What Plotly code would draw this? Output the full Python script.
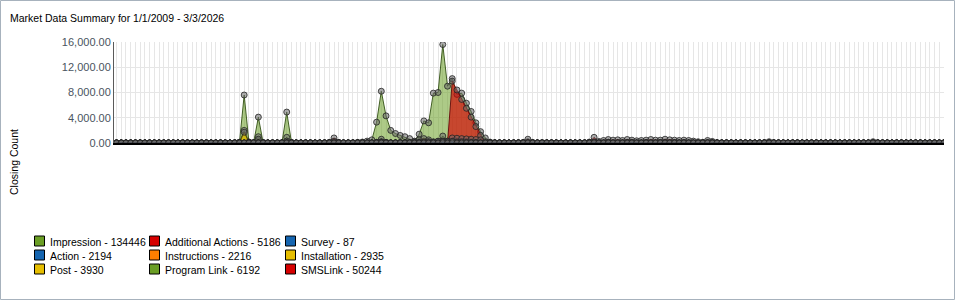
import plotly.graph_objects as go

# ---------------- data ----------------
periods = list(range(176))

impression = [
    0, 0, 20, 0, 0, 30, 0, 0, 0, 20, 0, 0, 0, 0, 30, 0,
    0, 0, 0, 20, 0, 0, 0, 0, 0, 30, 80, 7600, 150, 60, 4100, 90,
    0, 0, 0, 90, 4900, 120, 0, 0, 20, 0, 0, 0, 0, 40, 300, 60,
    0, 20, 40, 100, 150, 300, 500, 3300, 8200, 4300, 2000, 1500, 1200, 1000, 700, 300,
    1400, 3500, 3200, 7900, 8000, 15600, 9000, 10200, 7700, 7900, 6300, 5000, 3200, 1800, 800, 150,
    40, 0, 20, 0, 0, 30, 0, 200, 0, 0, 0, 20, 0, 0, 0, 0,
    0, 0, 20, 0, 0, 150, 0, 0, 50, 0, 60, 0, 0, 50, 0, 0,
    0, 40, 0, 0, 60, 0, 0, 0, 40, 0, 0, 0, 0, 0, 100, 0,
    0, 0, 0, 0, 0, 0, 0, 0, 0, 0, 80, 0, 0, 0, 0, 0,
    0, 0, 0, 0, 0, 0, 0, 0, 0, 0, 0, 0, 0, 0, 0, 0,
    60, 0, 0, 0, 0, 0, 0, 0, 0, 0, 0, 0, 0, 0, 0, 0,
]

sms_link = [
    0, 0, 0, 0, 0, 0, 0, 0, 0, 0, 0, 0, 0, 0, 0, 0,
    0, 0, 0, 0, 0, 0, 0, 0, 0, 0, 0, 0, 0, 0, 0, 0,
    0, 0, 0, 0, 0, 0, 0, 0, 0, 0, 0, 0, 0, 100, 800, 100,
    0, 0, 0, 0, 0, 0, 0, 0, 0, 0, 0, 0, 0, 0, 0, 0,
    0, 0, 0, 0, 0, 0, 0, 9800, 8400, 6900, 5500, 4100, 2600, 1200, 0, 0,
    0, 0, 0, 0, 0, 0, 100, 600, 100, 0, 0, 0, 0, 0, 0, 0,
    0, 0, 0, 0, 150, 900, 250, 400, 550, 450, 500, 400, 550, 450, 350, 400,
    450, 550, 450, 450, 600, 500, 450, 400, 450, 400, 300, 200, 120, 400, 250, 80,
    0, 0, 0, 0, 0, 0, 0, 0, 0, 60, 200, 60, 0, 0, 0, 0,
    0, 0, 0, 0, 0, 0, 0, 0, 0, 0, 0, 0, 0, 0, 0, 0,
    200, 40, 0, 0, 0, 0, 0, 0, 0, 0, 0, 0, 0, 0, 0, 60,
]

additional_actions = [
    0, 0, 0, 0, 0, 0, 0, 0, 0, 0, 0, 0, 0, 0, 0, 0,
    0, 0, 0, 0, 0, 0, 0, 0, 0, 0, 0, 0, 0, 0, 0, 0,
    0, 0, 0, 0, 0, 0, 0, 0, 0, 0, 0, 0, 0, 0, 200, 0,
    0, 0, 0, 0, 0, 0, 0, 0, 0, 0, 0, 0, 0, 0, 0, 0,
    0, 0, 0, 0, 0, 0, 300, 800, 750, 700, 650, 600, 550, 500, 200, 0,
    0, 0, 0, 0, 0, 0, 0, 0, 0, 0, 0, 0, 0, 0, 0, 0,
    0, 0, 0, 0, 0, 0, 0, 0, 0, 0, 0, 0, 0, 0, 0, 0,
    0, 0, 0, 0, 0, 0, 0, 0, 0, 0, 0, 0, 0, 0, 0, 0,
    0, 0, 0, 0, 0, 0, 0, 0, 0, 0, 0, 0, 0, 0, 0, 0,
    0, 0, 0, 0, 0, 0, 0, 0, 0, 0, 0, 0, 0, 0, 0, 0,
    0, 0, 0, 0, 0, 0, 0, 0, 0, 0, 0, 0, 0, 0, 0, 0,
]

program_link = [
    0, 0, 0, 0, 0, 0, 0, 0, 0, 0, 0, 0, 0, 0, 0, 0,
    0, 0, 0, 0, 0, 0, 0, 0, 0, 0, 100, 2000, 100, 0, 1000, 0,
    0, 0, 0, 0, 900, 0, 0, 0, 0, 0, 0, 0, 0, 0, 0, 0,
    0, 0, 0, 0, 0, 0, 0, 0, 600, 0, 0, 0, 0, 0, 0, 0,
    0, 0, 0, 0, 300, 1100, 300, 0, 0, 0, 0, 0, 0, 0, 0, 0,
    0, 0, 0, 0, 0, 0, 0, 0, 0, 0, 0, 0, 0, 0, 0, 0,
    0, 0, 0, 0, 0, 0, 0, 0, 0, 0, 0, 0, 0, 0, 0, 0,
    0, 0, 0, 0, 0, 0, 0, 0, 0, 0, 0, 0, 0, 0, 0, 0,
    0, 0, 0, 0, 0, 0, 0, 0, 0, 0, 0, 0, 0, 0, 0, 0,
    0, 0, 0, 0, 0, 0, 0, 0, 0, 0, 0, 0, 0, 0, 0, 0,
    0, 0, 0, 0, 0, 0, 0, 0, 0, 0, 0, 0, 0, 0, 0, 0,
]

post = [
    0, 0, 0, 0, 0, 0, 0, 0, 0, 0, 0, 0, 0, 0, 0, 0,
    0, 0, 0, 0, 0, 0, 0, 0, 0, 0, 100, 1700, 150, 0, 600, 50,
    0, 0, 0, 0, 300, 0, 0, 0, 0, 0, 0, 0, 0, 0, 0, 0,
    0, 0, 0, 0, 0, 0, 0, 100, 200, 100, 0, 0, 0, 0, 0, 0,
    200, 300, 200, 0, 0, 0, 0, 0, 0, 0, 0, 0, 0, 0, 0, 0,
    0, 0, 0, 0, 0, 0, 0, 0, 0, 0, 0, 0, 0, 0, 0, 0,
    0, 0, 0, 0, 0, 0, 0, 0, 0, 0, 0, 0, 0, 0, 0, 0,
    0, 0, 0, 0, 0, 0, 0, 0, 0, 0, 0, 0, 0, 0, 0, 0,
    0, 0, 0, 0, 0, 0, 0, 0, 0, 0, 0, 0, 0, 0, 0, 0,
    0, 0, 0, 0, 0, 0, 0, 0, 0, 0, 0, 0, 0, 0, 0, 0,
    0, 0, 0, 0, 0, 0, 0, 0, 0, 0, 0, 0, 0, 0, 0, 0,
]

installation = [
    0, 0, 0, 0, 0, 0, 0, 0, 0, 0, 0, 0, 0, 0, 0, 0,
    0, 0, 0, 0, 0, 0, 0, 0, 0, 0, 0, 0, 0, 0, 0, 0,
    0, 0, 0, 0, 0, 0, 0, 0, 0, 0, 0, 0, 0, 0, 0, 0,
    0, 0, 0, 0, 0, 0, 0, 100, 150, 100, 0, 0, 0, 0, 0, 200,
    500, 700, 500, 200, 0, 200, 150, 0, 0, 0, 0, 0, 0, 0, 0, 0,
    0, 0, 0, 0, 0, 0, 0, 0, 0, 0, 0, 0, 0, 0, 0, 0,
    0, 0, 0, 0, 0, 0, 0, 0, 0, 0, 0, 0, 0, 0, 0, 0,
    0, 0, 0, 0, 0, 0, 0, 0, 0, 0, 0, 0, 0, 0, 0, 0,
    0, 0, 0, 0, 0, 0, 0, 0, 0, 0, 0, 0, 0, 0, 0, 0,
    0, 0, 0, 0, 0, 0, 0, 0, 0, 0, 0, 0, 0, 0, 0, 0,
    0, 0, 0, 0, 0, 0, 0, 0, 0, 0, 0, 0, 0, 0, 0, 0,
]

action = [
    0, 0, 0, 0, 0, 0, 0, 0, 0, 0, 0, 0, 0, 0, 0, 0,
    0, 0, 0, 0, 0, 0, 0, 0, 0, 0, 0, 0, 0, 0, 0, 0,
    0, 0, 0, 0, 0, 0, 0, 0, 0, 0, 0, 0, 0, 0, 0, 0,
    0, 0, 0, 0, 0, 0, 0, 0, 100, 0, 0, 0, 100, 0, 80, 0,
    0, 150, 0, 120, 0, 200, 0, 250, 0, 150, 0, 100, 0, 0, 0, 0,
    0, 0, 0, 0, 0, 0, 0, 60, 0, 0, 60, 0, 0, 0, 0, 0,
    0, 0, 0, 0, 0, 150, 0, 0, 100, 0, 0, 0, 0, 120, 0, 0,
    0, 0, 0, 100, 0, 0, 0, 0, 90, 0, 0, 0, 0, 80, 0, 0,
    0, 0, 0, 0, 0, 0, 0, 0, 0, 0, 0, 0, 0, 0, 0, 0,
    0, 0, 0, 0, 0, 0, 0, 0, 0, 0, 0, 0, 0, 0, 0, 0,
    0, 0, 0, 0, 0, 0, 0, 0, 0, 0, 0, 0, 0, 0, 0, 0,
]

instructions = [
    0, 0, 0, 0, 0, 0, 0, 0, 0, 0, 0, 0, 0, 0, 0, 0,
    0, 0, 0, 0, 0, 0, 0, 0, 0, 0, 0, 0, 0, 0, 0, 0,
    0, 0, 0, 0, 0, 0, 0, 0, 0, 0, 0, 0, 0, 0, 0, 0,
    0, 0, 0, 0, 0, 0, 0, 0, 0, 0, 0, 0, 0, 0, 0, 0,
    100, 0, 200, 0, 250, 300, 200, 200, 150, 0, 120, 0, 100, 0, 0, 0,
    0, 0, 0, 0, 0, 0, 0, 0, 0, 0, 0, 0, 0, 0, 0, 0,
    0, 0, 0, 0, 80, 0, 0, 0, 120, 0, 0, 0, 100, 0, 0, 0,
    90, 0, 0, 0, 100, 0, 80, 0, 0, 0, 0, 0, 0, 0, 0, 0,
    0, 0, 0, 0, 0, 0, 0, 0, 0, 0, 0, 0, 0, 0, 0, 0,
    0, 0, 0, 0, 0, 0, 0, 0, 0, 0, 0, 0, 0, 0, 0, 0,
    0, 0, 0, 0, 0, 0, 0, 0, 0, 0, 0, 0, 0, 0, 0, 0,
]

survey = [
    0, 0, 0, 0, 0, 0, 0, 0, 0, 0, 0, 0, 0, 0, 0, 0,
    0, 0, 0, 0, 0, 0, 0, 0, 0, 0, 0, 0, 0, 0, 0, 0,
    0, 0, 0, 0, 0, 0, 0, 0, 0, 0, 0, 0, 0, 0, 0, 0,
    0, 0, 0, 0, 0, 0, 0, 0, 0, 0, 0, 0, 0, 0, 0, 0,
    0, 0, 0, 0, 0, 40, 0, 30, 0, 0, 0, 0, 0, 0, 0, 0,
    0, 0, 0, 0, 0, 0, 0, 0, 0, 0, 0, 0, 0, 0, 0, 0,
    0, 0, 0, 0, 0, 17, 0, 0, 0, 0, 0, 0, 0, 0, 0, 0,
    0, 0, 0, 0, 0, 0, 0, 0, 0, 0, 0, 0, 0, 0, 0, 0,
    0, 0, 0, 0, 0, 0, 0, 0, 0, 0, 0, 0, 0, 0, 0, 0,
    0, 0, 0, 0, 0, 0, 0, 0, 0, 0, 0, 0, 0, 0, 0, 0,
    0, 0, 0, 0, 0, 0, 0, 0, 0, 0, 0, 0, 0, 0, 0, 0,
]

# legend order (row-major, 3 columns) and totals shown in legend
legend_names = ["Impression", "Additional Actions", "Survey",
                "Action", "Instructions", "Installation",
                "Post", "Program Link", "SMSLink"]
legend_totals = [134446, 5186, 87, 2194, 2216, 2935, 3930, 6192, 50244]

y_ticks = [0, 4000, 8000, 12000, 16000]
title_text = "Market Data Summary for 1/1/2009 - 3/3/2026"
y_title = "Closing Count"

# ---------------- styling ----------------
FONT = "Liberation Sans, Arial, sans-serif"
colors = {
    "Impression": (106, 158, 36),
    "Additional Actions": (214, 0, 0),
    "Survey": (21, 101, 176),
    "Action": (21, 101, 176),
    "Instructions": (255, 127, 0),
    "Installation": (230, 190, 0),
    "Post": (230, 190, 0),
    "Program Link": (106, 158, 36),
    "SMSLink": (214, 0, 0),
}
line_colors = {
    "Impression": "rgba(50,80,20,0.9)",
    "Additional Actions": "rgba(100,10,10,0.9)",
    "Survey": "rgba(15,30,60,0.9)",
    "Action": "rgba(15,30,60,0.9)",
    "Instructions": "rgba(90,45,0,0.9)",
    "Installation": "rgba(80,65,0,0.9)",
    "Post": "rgba(80,65,0,0.9)",
    "Program Link": "rgba(50,80,20,0.9)",
    "SMSLink": "rgba(100,10,10,0.9)",
}
fill_alpha = {
    "Impression": 0.55, "Program Link": 0.55, "Post": 0.75, "Installation": 0.75,
    "SMSLink": 0.65, "Additional Actions": 0.65, "Instructions": 0.7,
    "Action": 0.7, "Survey": 0.7,
}

series = {
    "Impression": impression,
    "Program Link": program_link,
    "Post": post,
    "Installation": installation,
    "SMSLink": sms_link,
    "Additional Actions": additional_actions,
    "Instructions": instructions,
    "Action": action,
    "Survey": survey,
}

fig = go.Figure()
for name, vals in series.items():
    r, g, b = colors[name]
    fig.add_trace(go.Scatter(
        x=periods, y=vals, name=name,
        mode="lines+markers",
        fill="tozeroy",
        fillcolor=f"rgba({r},{g},{b},{fill_alpha[name]})",
        line=dict(color=line_colors[name], width=1),
        marker=dict(size=6, color="rgba(105,105,105,0.55)",
                    line=dict(color="rgba(35,35,35,0.8)", width=1)),
        showlegend=False,
        cliponaxis=True,
    ))

# pixel geometry
W, H = 955, 300
ML, MR, MT, MB = 114, 11, 42, 157
PW = W - ML - MR
PH = H - MT - MB


def px(x):
    return (x - ML) / PW


def py(y):
    return (H - MB - y) / PH


shapes = []
annotations = []

# outer border
shapes.append(dict(type="rect", xref="paper", yref="paper",
                   x0=px(0.5), x1=px(954.5), y0=py(299.5), y1=py(0.5),
                   line=dict(color="#a7b2bd", width=1), fillcolor="rgba(0,0,0,0)",
                   layer="above"))

# title
annotations.append(dict(text=title_text, xref="paper", yref="paper",
                        x=px(8), y=py(17.5), xanchor="left", yanchor="middle",
                        showarrow=False, font=dict(family=FONT, size=10.5, color="#000")))
# y axis title
annotations.append(dict(text=y_title, xref="paper", yref="paper",
                        x=px(13.5), y=py(162.5), xanchor="center", yanchor="middle",
                        textangle=-90, showarrow=False,
                        font=dict(family=FONT, size=10.5, color="#000")))

# legend (3 columns x 3 rows)
col_box_x = [34.5, 149.5, 285.5]
row_box_y = [236, 250, 264]
for k, (nm, tot) in enumerate(zip(legend_names, legend_totals)):
    row, col = divmod(k, 3)
    r, g, b = colors[nm]
    x0 = col_box_x[col]
    y0 = row_box_y[row]
    shapes.append(dict(type="rect", xref="paper", yref="paper",
                       x0=px(x0), x1=px(x0 + 10), y0=py(y0 + 10), y1=py(y0),
                       line=dict(color="#000", width=1),
                       fillcolor=f"rgb({r},{g},{b})"))
    annotations.append(dict(text=f"{nm} - {tot}", xref="paper", yref="paper",
                            x=px(x0 + 13), y=py(y0 + 5.5), xanchor="left", yanchor="middle",
                            showarrow=False,
                            font=dict(family=FONT, size=10.5, color="#000")))

fig.update_layout(
    width=W, height=H,
    margin=dict(l=ML, r=MR, t=MT, b=MB, pad=0),
    paper_bgcolor="white", plot_bgcolor="white",
    showlegend=False,
    shapes=shapes, annotations=annotations,
    xaxis=dict(range=[-0.53, 175], tick0=0, dtick=1, showgrid=True,
               gridcolor="#e6e6e6", gridwidth=1, showticklabels=False,
               zeroline=False, showline=True, linecolor="#000", linewidth=2,
               ticks="", fixedrange=True),
    yaxis=dict(range=[0, 16000], tickvals=y_ticks, tickformat=",.2f",
               showgrid=True, gridcolor="#e6e6e6", gridwidth=1,
               zeroline=False, showline=True, linecolor="#5a5a5a", linewidth=1,
               ticks="", tickfont=dict(family=FONT, size=11, color="#4a5460"),
               fixedrange=True),
)

fig.write_html("out.html")
